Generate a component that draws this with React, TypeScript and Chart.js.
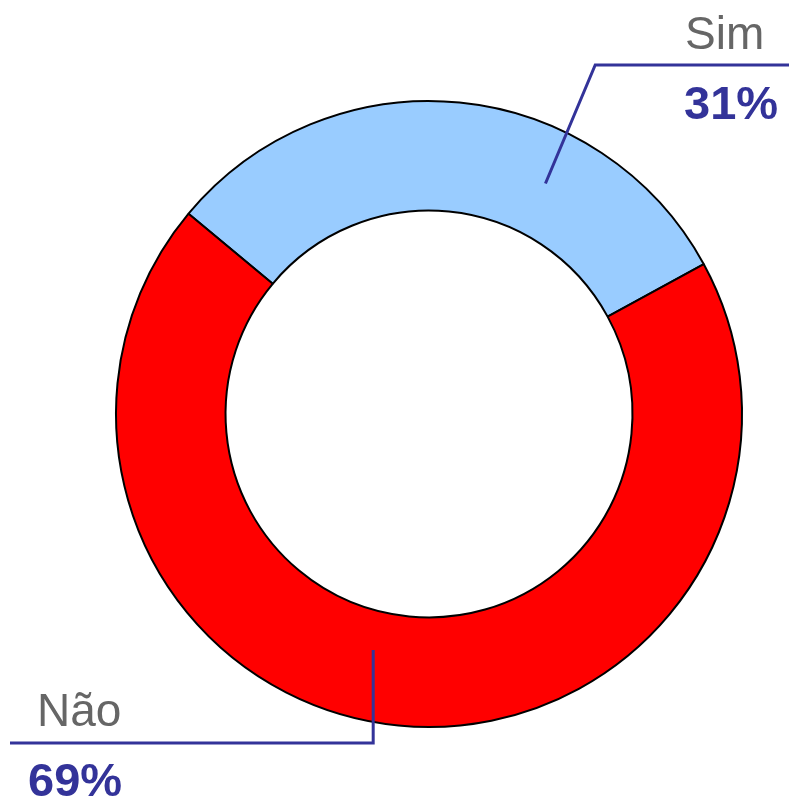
import React, { useEffect, useRef } from "react";
import { Chart, registerables } from "chart.js";

Chart.register(...registerables);

const categories = ["Sim", "Não"];
const values = [31, 69];
const percentLabels = ["31%", "69%"];
const colors = ["#99CCFF", "#FF0000"];

const labelPlugin = {
  id: "leaderLabels",
  afterDatasetsDraw(chart: any) {
    const ctx = chart.ctx;
    const meta = chart.getDatasetMeta(0);
    const a0 = meta.data[0];
    const a1 = meta.data[1];
    if (!a0 || !a1) return;
    const cx = a0.x, cy = a0.y, R = a0.outerRadius;
    const W = chart.width;
    ctx.save();
    ctx.strokeStyle = "#333399";
    ctx.lineWidth = 3;
    ctx.lineJoin = "miter";
    // Sim
    const angS = a0.startAngle + (a0.endAngle - a0.startAngle) * 0.69;
    const rS = R * 0.825;
    const sx = cx + Math.cos(angS) * rS;
    const sy = cy + Math.sin(angS) * rS;
    const elbowY = cy - R * 1.115;
    const elbowX = sx + (sy - elbowY) * 0.42;
    ctx.beginPath();
    ctx.moveTo(sx, sy);
    ctx.lineTo(elbowX, elbowY);
    ctx.lineTo(W, elbowY);
    ctx.stroke();
    // Não
    const angN = a1.startAngle + (a1.endAngle - a1.startAngle) * 0.531;
    const rN = R * 0.775;
    const nx = cx + Math.cos(angN) * rN;
    const ny = cy + Math.sin(angN) * rN;
    const nElbowY = cy + R * 1.051;
    ctx.beginPath();
    ctx.moveTo(nx, ny);
    ctx.lineTo(nx, nElbowY);
    ctx.lineTo(10, nElbowY);
    ctx.stroke();

    ctx.textAlign = "left";
    ctx.textBaseline = "alphabetic";
    ctx.fillStyle = "#666666";
    ctx.font = "46px 'Liberation Sans', Arial, sans-serif";
    ctx.fillText(categories[0], 685, elbowY - 16);
    ctx.fillText(categories[1], 37, nElbowY - 17);
    ctx.fillStyle = "#333399";
    ctx.font = "bold 47px 'Liberation Sans', Arial, sans-serif";
    ctx.fillText(percentLabels[0], 684, elbowY + 54);
    ctx.fillText(percentLabels[1], 28, nElbowY + 53);
    ctx.restore();
  },
};

export default function App() {
  const ref = useRef<HTMLCanvasElement>(null);
  useEffect(() => {
    if (!ref.current) return;
    const chart = new Chart(ref.current, {
      type: "doughnut",
      data: {
        labels: categories,
        datasets: [
          {
            data: values,
            backgroundColor: colors,
            borderColor: "#000000",
            borderWidth: 2,
          },
        ],
      },
      options: {
        animation: false,
        responsive: false,
        rotation: -50.2,
        cutout: "65%",
        layout: { padding: { left: 115, right: 46, top: 100, bottom: 71 } },
        plugins: { legend: { display: false }, tooltip: { enabled: false } },
      },
      plugins: [labelPlugin],
    });
    return () => chart.destroy();
  }, []);
  return (
    <div style={{ position: "fixed", left: 0, top: 0, width: 789, height: 799, background: "#fff" }}>
      <canvas ref={ref} width={789} height={799} style={{ display: "block" }} />
    </div>
  );
}
